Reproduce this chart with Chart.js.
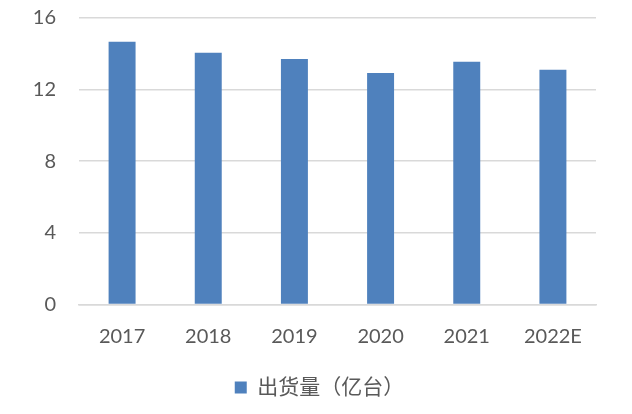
<!DOCTYPE html>
<html>
<head>
<meta charset="utf-8">
<script src="https://cdn.jsdelivr.net/npm/chart.js@4"></script>
<style>
html,body{margin:0;padding:0;background:#fff;}
#wrap{width:632px;height:414px;position:relative;}
</style>
</head>
<body>
<div id="wrap"><canvas id="c" width="632" height="414"></canvas></div>
<script>
const categories = ["2017", "2018", "2019", "2020", "2021", "2022E"];
const shipments = [14.66, 14.05, 13.70, 12.92, 13.54, 13.10];
const seriesName = "出货量（亿台）";
const yTicks = [0, 4, 8, 12, 16];

const FONT = "Lato, 'Noto Sans CJK SC', sans-serif";
const TXT = "#595959";

function zeroPad(s) { s.paddingTop = 0; s.paddingBottom = 0; }

new Chart(document.getElementById("c"), {
  type: "bar",
  data: {
    labels: categories,
    datasets: [{
      label: seriesName,
      data: shipments,
      backgroundColor: "#4F81BD",
      borderWidth: 0,
      categoryPercentage: 1,
      barPercentage: 0.313
    }]
  },
  options: {
    responsive: false,
    animation: false,
    devicePixelRatio: 1,
    layout: { padding: { top: 17.7, left: 7, right: 0, bottom: 6 } },
    plugins: {
      tooltip: { enabled: false },
      legend: {
        position: "bottom",
        labels: {
          color: TXT,
          font: { family: FONT, size: 21 },
          boxWidth: 12,
          boxHeight: 12,
          padding: 10
        }
      }
    },
    scales: {
      x: {
        grid: { display: false, drawTicks: false },
        border: { display: true, color: "#D9D9D9", width: 1.5 },
        ticks: { color: TXT, font: { family: FONT, size: 20 }, padding: 20, maxRotation: 0 },
        afterFit: s => { s.height = 62.5; }
      },
      y: {
        min: 0, max: 16,
        afterBuildTicks: s => { s.ticks = yTicks.map(v => ({ value: v })); },
        grid: { color: "#D9D9D9", lineWidth: 1.5, drawTicks: false },
        border: { display: false },
        ticks: { color: TXT, font: { family: FONT, size: 20 }, padding: 23 },
        afterFit: s => { s.width = 72; zeroPad(s); }
      },
      yR: {
        position: "right",
        display: false,
        afterFit: s => { s.width = 36; zeroPad(s); }
      }
    }
  }
});
</script>
</body>
</html>
